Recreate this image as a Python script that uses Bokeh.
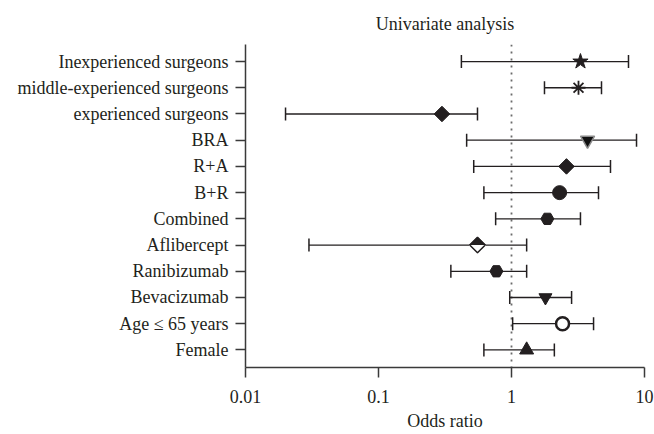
import math
from bokeh.plotting import figure
from bokeh.models import (Range1d, FixedTicker, CustomJSTickFormatter, Whisker,
                          TeeHead, Span, ColumnDataSource)
from bokeh.embed import file_html
from bokeh.resources import INLINE

# ---------------- data ----------------
labels = ["Inexperienced surgeons", "middle-experienced surgeons", "experienced surgeons",
          "BRA", "R+A", "B+R", "Combined", "Aflibercept", "Ranibizumab",
          "Bevacizumab", "Age \u2264 65 years", "Female"]
odds_ratio = [3.30, 3.19, 0.30, 3.73, 2.59, 2.30, 1.86, 0.555, 0.77, 1.80, 2.42, 1.30]
ci_low = [0.42, 1.77, 0.020, 0.46, 0.52, 0.62, 0.76, 0.030, 0.35, 0.97, 1.02, 0.62]
ci_high = [7.58, 4.75, 0.555, 8.71, 5.55, 4.51, 3.30, 1.30, 1.30, 2.83, 4.14, 2.10]
x_ticks = [0.01, 0.1, 1, 10]
x_tick_labels = ["0.01", "0.1", "1", "10"]
title_text = "Univariate analysis"
x_title = "Odds ratio"

# ---------------- styling ----------------
FONT = "Liberation Serif"
INK = "#231f20"
FS = "18px"
W, H = 654, 434
BL, BR, BT, BB = 245, 10, 42, 67
Y_LO, Y_HI = 0.33, 12.65

n = len(labels)
ys = [n - i for i in range(n)]

marker_styles = [
    # marker, size, fill, line, line_width, angle
    ("star", 16, INK, INK, 1, 0),
    ("asterisk", 14, None, INK, 1.8, 0),
    ("square", 11, INK, INK, 1, math.pi / 4),
    ("inverted_triangle", 14, "#111111", "#8a8a8a", 1.5, 0),
    ("square", 11, INK, INK, 1, math.pi / 4),
    ("circle", 14, INK, INK, 1, 0),
    ("hex", 13, INK, INK, 1, 0),
    ("square", 11, INK, INK, 1, math.pi / 4),
    ("hex", 13, INK, INK, 1, 0),
    ("inverted_triangle", 13, INK, INK, 1, 0),
    ("circle", 13, "white", INK, 2.5, 0),
    ("triangle", 14, INK, INK, 1, 0),
]

p = figure(width=W, height=H, x_axis_type="log",
           x_range=Range1d(x_ticks[0], x_ticks[-1]), y_range=Range1d(Y_LO, Y_HI),
           output_backend="svg", toolbar_location=None,
           min_border_left=BL, min_border_right=BR, min_border_top=BT, min_border_bottom=BB)
p.outline_line_color = None
p.xgrid.visible = False
p.ygrid.visible = False
p.background_fill_color = "white"
p.border_fill_color = "white"

p.title.text = title_text
p.title.align = "center"
p.title.text_font = FONT
p.title.text_font_size = FS
p.title.text_font_style = "normal"
p.title.text_color = INK
p.title.standoff = 22

# reference line at OR = 1
p.add_layout(Span(location=1, dimension="height", line_color="#6b6b6b",
                  line_dash="2 5", line_width=1.8, level="underlay"))

# CI whiskers
wsrc = ColumnDataSource(dict(y=ys, lo=ci_low, hi=ci_high))
head = dict(size=13, line_color=INK, line_width=1.5)
p.add_layout(Whisker(source=wsrc, base="y", lower="lo", upper="hi", dimension="width",
                     line_color=INK, line_width=1.3,
                     lower_head=TeeHead(**head), upper_head=TeeHead(**head)))

# point estimates
msrc = ColumnDataSource(dict(
    x=odds_ratio, y=ys,
    marker=[s[0] for s in marker_styles],
    size=[s[1] for s in marker_styles],
    fill=[s[2] if s[2] else "rgba(0,0,0,0)" for s in marker_styles],
    line=[s[3] for s in marker_styles],
    lw=[s[4] for s in marker_styles],
    angle=[s[5] for s in marker_styles],
))
p.scatter(x="x", y="y", marker="marker", size="size", fill_color="fill",
          line_color="line", line_width="lw", angle="angle", source=msrc)

# Aflibercept: diamond with top half black, bottom half white
ia = labels.index("Aflibercept")
ppu = (H - BT - BB) / (Y_HI - Y_LO)
half_h = 8.5
p.rect(x=[odds_ratio[ia]], y=[ys[ia] - (half_h / 2) / ppu], width=17, height=half_h,
       width_units="screen", height_units="screen", fill_color="white", line_color=None)
p.scatter(x=[odds_ratio[ia]], y=[ys[ia]], marker="square", size=11, angle=math.pi / 4,
          fill_color=None, line_color=INK, line_width=1.5)

# axes
ya = p.yaxis[0]
ya.ticker = FixedTicker(ticks=ys)
ya.major_label_overrides = {y: lab for y, lab in zip(ys, labels)}
ya.minor_tick_line_color = None
ya.major_tick_out = 10
ya.major_tick_in = 0
ya.major_label_standoff = 7
ya.axis_line_color = "#3a3a3a"
ya.axis_line_width = 1.5
ya.major_tick_line_color = "#3a3a3a"
ya.major_tick_line_width = 1.5
ya.major_label_text_font = FONT
ya.major_label_text_font_size = FS
ya.major_label_text_color = INK

xa = p.xaxis[0]
xa.ticker = FixedTicker(ticks=x_ticks, minor_ticks=[])
xa.formatter = CustomJSTickFormatter(
    args=dict(vals=x_ticks, labs=x_tick_labels),
    code="""
    for (let i = 0; i < vals.length; i++) {
        if (Math.abs(Math.log10(vals[i]) - Math.log10(tick)) < 1e-6) return labs[i];
    }
    return '';
    """)
xa.minor_tick_line_color = None
xa.major_tick_out = 10
xa.major_tick_in = 0
xa.major_label_standoff = 12
xa.axis_line_color = "#3a3a3a"
xa.axis_line_width = 1.5
xa.major_tick_line_color = "#3a3a3a"
xa.major_tick_line_width = 1.5
xa.major_label_text_font = FONT
xa.major_label_text_font_size = FS
xa.major_label_text_color = INK
xa.axis_label = x_title
xa.axis_label_text_font = FONT
xa.axis_label_text_font_size = FS
xa.axis_label_text_font_style = "normal"
xa.axis_label_text_color = INK
xa.axis_label_standoff = 5

open("out.html", "w").write(file_html(p, INLINE))
